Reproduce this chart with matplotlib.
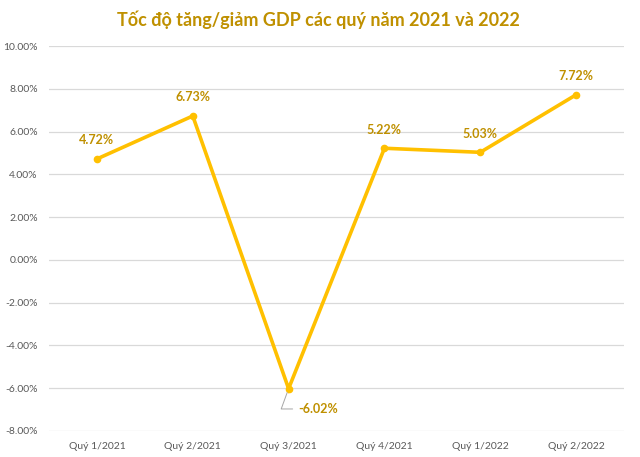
import matplotlib
matplotlib.use("Agg")
import matplotlib.pyplot as plt
from matplotlib.ticker import FuncFormatter

# Data
quarters = ["Quý 1/2021", "Quý 2/2021", "Quý 3/2021", "Quý 4/2021", "Quý 1/2022", "Quý 2/2022"]
growth = [4.72, 6.73, -6.02, 5.22, 5.03, 7.72]
y_ticks = [-8, -6, -4, -2, 0, 2, 4, 6, 8, 10]

line_color = "#FFC000"
label_color = "#BF9000"

plt.rcParams["font.family"] = ["Lato", "DejaVu Sans"]

fig = plt.figure(figsize=(6.4, 4.57), dpi=100)
ax = fig.add_axes([0.0766, 0.0569, 0.8984, 0.8424])

x = list(range(len(quarters)))
ax.plot(x, growth, color=line_color, lw=2.6, marker="o", ms=4.5, solid_joinstyle="miter")

for xi, v in zip(x, growth):
    if v < 0:
        ax.annotate(f"{v:.2f}%", xy=(xi, v), xytext=(xi + 0.1, v - 0.95),
                    color=label_color, fontsize=9, fontweight="bold",
                    va="center", ha="left",
                    arrowprops=dict(arrowstyle="-", color="#A6A6A6", lw=0.7,
                                    connectionstyle="angle,angleA=0,angleB=70,rad=0",
                                    shrinkA=2, shrinkB=3))
    else:
        ax.annotate(f"{v:.2f}%", xy=(xi, v), xytext=(0, 9), textcoords="offset points",
                    color=label_color, fontsize=9, fontweight="bold", ha="center", va="bottom")

ax.set_xlim(-0.5, len(quarters) - 0.5)
ax.set_ylim(-8, 10)
ax.set_yticks(y_ticks)
ax.yaxis.set_major_formatter(FuncFormatter(lambda v, p: f"{v:.2f}%"))
ax.set_xticks(x)
ax.set_xticklabels(quarters)
ax.tick_params(axis="both", length=0, labelsize=7.5, colors="#595959")
ax.tick_params(axis="x", pad=8)
ax.tick_params(axis="y", pad=8)
ax.grid(axis="y", color="#D9D9D9", lw=0.9)
ax.set_axisbelow(True)
for s in ax.spines.values():
    s.set_visible(False)

fig.text(0.497, 0.957, "Tốc độ tăng/giảm GDP các quý năm 2021 và 2022", ha="center", va="center",
         color=label_color, fontsize=13, fontweight="bold")

fig.savefig("out.png", dpi=100)
